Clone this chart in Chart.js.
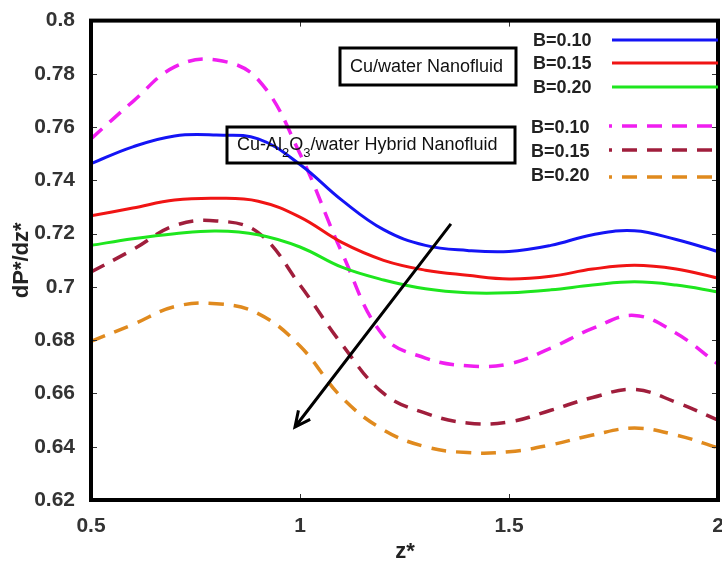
<!DOCTYPE html>
<html>
<head>
<meta charset="utf-8">
<script src="https://cdn.jsdelivr.net/npm/chart.js@4"></script>
<style>
    html, body { margin: 0; padding: 0; background: #fff; }
    #wrap { width: 722px; height: 569px; position: relative; }
</style>
</head>
<body>
<div id="wrap"><canvas id="dpChart" width="722" height="569"></canvas></div>
<script>
// dP*/dz* against z* for Cu/water and Cu-Al2O3/water hybrid nanofluid

const zValues = [0.5, 0.6, 0.7, 0.8, 0.9, 1.0, 1.1, 1.2, 1.3, 1.4, 1.5, 1.6, 1.7, 1.8, 1.9, 2.0];

// Cu/water nanofluid (solid)
const cuB10 = [0.7463, 0.7526, 0.7567, 0.7570, 0.7556, 0.7460, 0.7326, 0.7215, 0.7156, 0.7137, 0.7133, 0.7156, 0.7196, 0.7211, 0.7178, 0.7133];
const cuB15 = [0.7267, 0.7296, 0.7326, 0.7333, 0.7322, 0.7262, 0.7167, 0.7100, 0.7063, 0.7044, 0.7030, 0.7040, 0.7067, 0.7081, 0.7067, 0.7033];
const cuB20 = [0.7156, 0.7181, 0.7200, 0.7210, 0.7196, 0.7150, 0.7074, 0.7026, 0.6993, 0.6978, 0.6978, 0.6989, 0.7007, 0.7019, 0.7007, 0.6981];

// Cu-Al2O3/water hybrid nanofluid (dashed)
const hyB10 = [0.7556, 0.7696, 0.7826, 0.7852, 0.7778, 0.7500, 0.7130, 0.6815, 0.6733, 0.6704, 0.6711, 0.6770, 0.6844, 0.6893, 0.6826, 0.6710];
const hyB15 = [0.7056, 0.7140, 0.7230, 0.7248, 0.7204, 0.7007, 0.6785, 0.6600, 0.6526, 0.6489, 0.6493, 0.6537, 0.6585, 0.6615, 0.6567, 0.6500];
const hyB20 = [0.6796, 0.6859, 0.6926, 0.6937, 0.6900, 0.6778, 0.6585, 0.6463, 0.6400, 0.6378, 0.6381, 0.6407, 0.6444, 0.6470, 0.6444, 0.6396];

const xTicks = [0.5, 1, 1.5, 2];
const yTicks = [0.62, 0.64, 0.66, 0.68, 0.70, 0.72, 0.74, 0.76, 0.78, 0.80];
const legendLabels = ['B=0.10', 'B=0.15', 'B=0.20'];

const FONT = '"Liberation Sans", Arial, sans-serif';
const DASH = [15, 10];

function series(values, color, dashed) {
    return {
        data: zValues.map((z, i) => ({ x: z, y: values[i] })),
        borderColor: color,
        borderWidth: dashed ? 3.5 : 3,
        borderDash: dashed ? DASH : [],
        pointRadius: 0,
        fill: false,
        tension: 0.4
    };
}

// frame, inward ticks, titles, boxes, legend and arrow
const decorations = {
    id: 'decorations',
    afterDraw(chart) {
        const ctx = chart.ctx;
        const a = chart.chartArea;
        const xs = chart.scales.x;
        const ys = chart.scales.y;
        ctx.save();

        // inward tick marks on all four sides
        ctx.strokeStyle = '#333';
        ctx.lineWidth = 1;
        ctx.beginPath();
        xTicks.forEach(t => {
            const px = Math.round(xs.getPixelForValue(t)) + 0.5;
            ctx.moveTo(px, a.bottom); ctx.lineTo(px, a.bottom - 6);
            ctx.moveTo(px, a.top); ctx.lineTo(px, a.top + 6);
        });
        yTicks.forEach(t => {
            const py = Math.round(ys.getPixelForValue(t)) + 0.5;
            ctx.moveTo(a.left, py); ctx.lineTo(a.left + 6, py);
            ctx.moveTo(a.right, py); ctx.lineTo(a.right - 6, py);
        });
        ctx.stroke();

        // thick frame
        ctx.strokeStyle = '#000';
        ctx.lineWidth = 4;
        ctx.strokeRect(a.left, a.top, a.right - a.left, a.bottom - a.top);

        // axis titles
        ctx.fillStyle = '#222';
        ctx.font = 'bold 22px ' + FONT;
        ctx.textAlign = 'center';
        ctx.textBaseline = 'middle';
        ctx.fillText('z*', (a.left + a.right) / 2 + 0.5, 552);
        ctx.save();
        ctx.translate(a.left - 69, (a.top + a.bottom) / 2);
        ctx.rotate(-Math.PI / 2);
        ctx.fillText('dP*/dz*', 0, 0);
        ctx.restore();

        // label boxes (no fill, curves show through)
        ctx.lineWidth = 3;
        ctx.strokeStyle = '#000';
        ctx.strokeRect(340, 48, 176, 37);
        ctx.strokeRect(227, 127, 288, 36);

        ctx.fillStyle = '#111';
        ctx.textAlign = 'left';
        ctx.textBaseline = 'middle';
        ctx.font = '18px ' + FONT;
        ctx.fillText('Cu/water Nanofluid', 350, 67);

        let tx = 237;
        const ty = 145;
        const parts = [['Cu-Al', 0], ['2', 1], ['O', 0], ['3', 1], ['/water Hybrid Nanofluid', 0]];
        parts.forEach(([s, sub]) => {
            ctx.font = (sub ? '13px ' : '18px ') + FONT;
            ctx.fillText(s, tx, sub ? ty + 8 : ty);
            tx += ctx.measureText(s).width;
        });

        // legend
        ctx.font = 'bold 18px ' + FONT;
        const rows = [
            { y: 41, lineY: 40, x0: 612 }, { y: 64, lineY: 63, x0: 612 }, { y: 88, lineY: 87, x0: 612 },
            { y: 128, lineY: 126, x0: 609 }, { y: 152, lineY: 150, x0: 609 }, { y: 176, lineY: 177, x0: 609 }
        ];
        chart.data.datasets.forEach((ds, i) => {
            const r = rows[i];
            ctx.fillStyle = '#222';
            ctx.textAlign = 'left';
            ctx.fillText(legendLabels[i % 3], i < 3 ? 533 : 531, r.y);
            ctx.strokeStyle = ds.borderColor;
            ctx.lineWidth = ds.borderWidth;
            ctx.setLineDash(ds.borderDash);
            ctx.lineDashOffset = ds.borderDash.length ? 12 : 0;
            ctx.beginPath();
            ctx.moveTo(r.x0, r.lineY);
            ctx.lineTo(a.right, r.lineY);
            ctx.stroke();
        });
        ctx.setLineDash([]);
        ctx.lineDashOffset = 0;

        // arrow showing increasing B
        const x1 = xs.getPixelForValue(1.361), y1 = ys.getPixelForValue(0.7237);
        const x2 = xs.getPixelForValue(0.988), y2 = ys.getPixelForValue(0.6474);
        ctx.strokeStyle = '#000';
        ctx.lineWidth = 3;
        ctx.beginPath();
        ctx.moveTo(x1, y1);
        ctx.lineTo(x2, y2);
        const ang = Math.atan2(y2 - y1, x2 - x1);
        const hl = 17;
        ctx.moveTo(x2 - hl * Math.cos(ang - 0.45), y2 - hl * Math.sin(ang - 0.45));
        ctx.lineTo(x2, y2);
        ctx.lineTo(x2 - hl * Math.cos(ang + 0.45), y2 - hl * Math.sin(ang + 0.45));
        ctx.stroke();

        ctx.restore();
    }
};

new Chart(document.getElementById('dpChart'), {
    type: 'line',
    data: {
        datasets: [
            series(cuB10, '#1414f5', false),
            series(cuB15, '#f01414', false),
            series(cuB20, '#1ee61e', false),
            series(hyB10, '#f01ef0', true),
            series(hyB15, '#a01e3c', true),
            series(hyB20, '#e08a1e', true)
        ]
    },
    options: {
        responsive: false,
        animation: false,
        layout: { padding: { top: 15, right: 4, left: 0, bottom: 0 } },
        plugins: {
            legend: { display: false },
            tooltip: { enabled: false }
        },
        scales: {
            x: {
                type: 'linear',
                min: 0.5,
                max: 2,
                afterBuildTicks: s => { s.ticks = xTicks.map(v => ({ value: v })); },
                afterFit: s => { s.height = 69; s.paddingLeft = 0; s.paddingRight = 0; },
                grid: { display: false },
                border: { display: false },
                ticks: {
                    padding: 6,
                    color: '#333',
                    font: { family: FONT, size: 21, weight: 'bold' },
                    maxRotation: 0,
                    callback: v => String(Number(v.toFixed(2)))
                }
            },
            y: {
                min: 0.62,
                max: 0.8,
                afterBuildTicks: s => { s.ticks = yTicks.map(v => ({ value: v })); },
                afterFit: s => { s.width = 91; },
                grid: { display: false },
                border: { display: false },
                ticks: {
                    padding: 8,
                    color: '#333',
                    font: { family: FONT, size: 21, weight: 'bold' },
                    callback: v => String(Number(v.toFixed(2)))
                }
            }
        }
    },
    plugins: [decorations]
});
</script>
</body>
</html>
